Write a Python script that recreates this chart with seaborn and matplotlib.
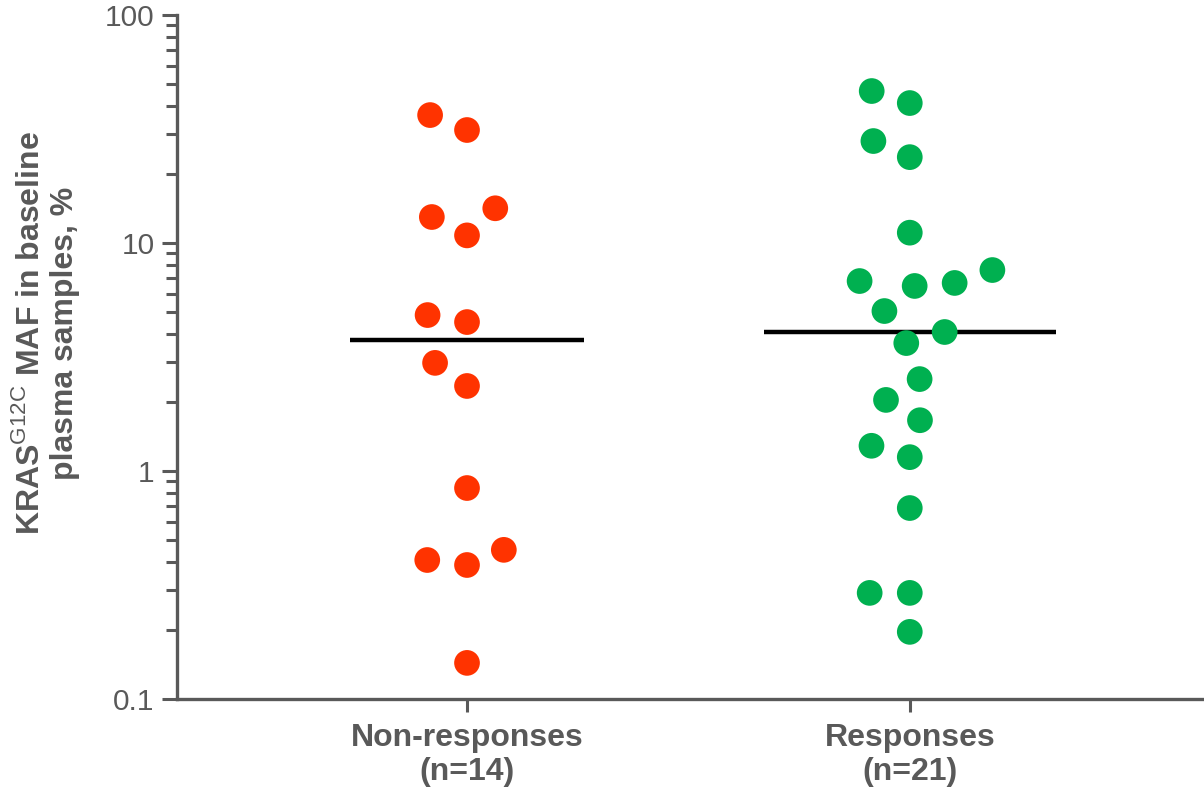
import numpy as np
import pandas as pd
import seaborn as sns
import matplotlib
matplotlib.use("Agg")
import matplotlib.pyplot as plt

# values (MAF, %)
non_responses = [36.4, 31.3, 14.2, 13.0, 10.8, 4.83, 4.5, 2.98, 2.36,
                 0.842, 0.451, 0.407, 0.387, 0.144]
responses = [46.4, 41.1, 28.0, 23.8, 11.1, 7.61, 6.81, 6.68, 6.48, 5.03,
             4.07, 3.64, 2.53, 2.05, 1.67, 1.29, 1.15, 0.688, 0.292, 0.292,
             0.197]
categories = ["Non-responses\n(n=14)", "Responses\n(n=21)"]
colors = ["#FF3300", "#00B050"]
grey = "#595959"
median_halfwidth = [0.265, 0.33]

df = pd.DataFrame({
    "group": [categories[0]] * len(non_responses) + [categories[1]] * len(responses),
    "maf": non_responses + responses,
})

sns.set_style("ticks")
plt.rcParams["font.family"] = ["Liberation Sans", "DejaVu Sans"]
plt.rcParams["mathtext.fontset"] = "custom"
plt.rcParams["mathtext.bf"] = "Liberation Sans:bold"
plt.rcParams["mathtext.rm"] = "Liberation Sans"

fig = plt.figure(figsize=(12.04, 7.93), dpi=100)
ax = fig.add_axes([177 / 1204, 94 / 793, 1025 / 1204, 684 / 793])

# invisible edge widens the swarm spacing, like the loose columns in the original
sns.swarmplot(data=df, x="group", y="maf", hue="group", palette=colors,
              order=categories, size=18.5, linewidth=9, legend=False,
              log_scale=True, ax=ax)
for coll in ax.collections[:2]:
    coll.set_edgecolor((0, 0, 0, 0))
    coll.set_zorder(6)

# median lines
for i, cat in enumerate(categories):
    med = np.median(df.loc[df.group == cat, "maf"])
    ax.hlines(med, i - median_halfwidth[i], i + median_halfwidth[i],
              color="black", lw=3.2, zorder=5)

ax.set_yscale("log")
ax.set_ylim(0.1, 100)
ax.set_xlim(-0.655, 1.66)
ax.set_yticks([0.1, 1, 10, 100])
ax.set_yticklabels(["0.1", "1", "10", "100"])

for s in ["top", "right"]:
    ax.spines[s].set_visible(False)
for s in ["left", "bottom"]:
    ax.spines[s].set_color(grey)
    ax.spines[s].set_linewidth(2.4)

ax.tick_params(axis="y", which="major", length=11, width=2.2, color=grey,
               labelsize=21.5, labelcolor=grey, pad=5)
ax.tick_params(axis="y", which="minor", length=8, width=2.2, color=grey)
ax.tick_params(axis="x", length=9, width=2.2, color=grey, labelsize=23,
               labelcolor=grey, pad=8)
for lbl in ax.get_xticklabels():
    lbl.set_fontweight("bold")

ax.set_xlabel("")
ax.set_ylabel("KRAS$^{\\mathrm{G12C}}$ MAF in baseline\nplasma samples, %",
              fontsize=23, fontweight="bold", color=grey, linespacing=1.15)
ax.yaxis.set_label_coords(-0.095, 0.535)

fig.savefig("out.png", dpi=100)
